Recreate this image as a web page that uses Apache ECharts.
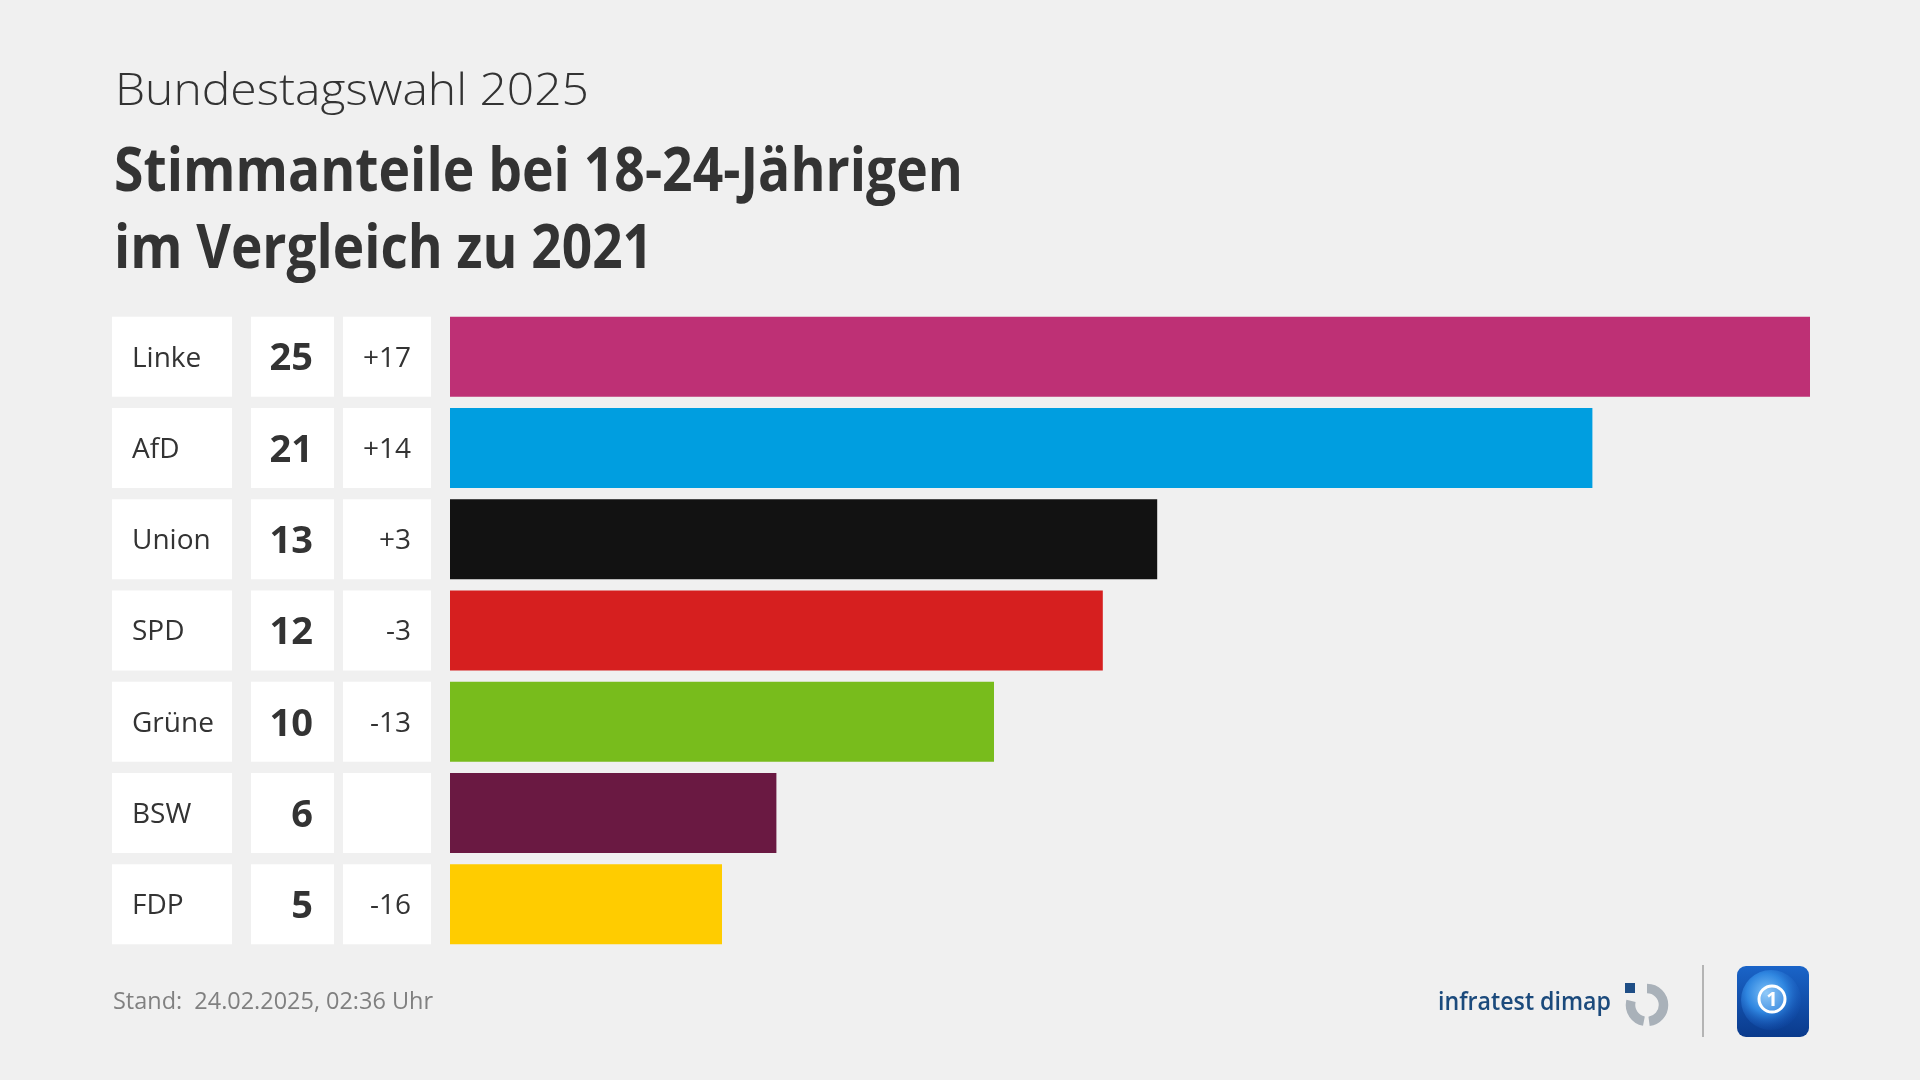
<!DOCTYPE html>
<html>
<head>
<meta charset="utf-8">
<script src="https://cdn.jsdelivr.net/npm/echarts@6/dist/echarts.min.js"></script>
<style>
html,body{margin:0;padding:0;background:#f0f0f0;}
#chart{width:1920px;height:1080px;}
</style>
</head>
<body>
<div id="chart"></div>
<script>
// ---- data ----
const parties = ['Linke', 'AfD', 'Union', 'SPD', 'Grüne', 'BSW', 'FDP'];
const shares = [25, 21, 13, 12, 10, 6, 5];
const changes = ['+17', '+14', '+3', '-3', '-13', '', '-16'];
const partyColors = ['#be3075', '#009ee0', '#121212', '#d61f1f', '#78bc1c', '#6a1942', '#ffcc00'];
const subtitleText = 'Bundestagswahl 2025';
const titleLines = ['Stimmanteile bei 18-24-Jährigen', 'im Vergleich zu 2021'];
const footnoteText = 'Stand:  24.02.2025, 02:36 Uhr';
const sourceText = 'infratest dimap';
const axisMax = 25;

// ---- helpers ----
const FONT = "'Open Sans', 'Noto Sans', sans-serif";
const mctx = document.createElement('canvas').getContext('2d');
function fitScale(text, size, weight, target) {
  mctx.font = weight + ' ' + size + 'px ' + FONT;
  const w = mctx.measureText(text).width;
  return w > 0 ? target / w : 1;
}
function label(text, x, cy, size, weight, color, targetWidth) {
  return {
    type: 'text', x: x, y: cy, silent: true,
    scaleX: targetWidth ? fitScale(text, size, weight, targetWidth) : 1,
    style: {
      text: text, x: 0, y: 0, fill: color,
      fontSize: size, fontWeight: weight, fontFamily: FONT,
      align: 'left', verticalAlign: 'middle'
    }
  };
}

const chart = echarts.init(document.getElementById('chart'), null, {renderer: 'canvas'});

const BOX_H = 80;
function renderRow(params, api) {
  const i = params.dataIndex;
  const cy = api.coord([0, i])[1];
  const top = cy - BOX_H / 2;
  return {
    type: 'group',
    children: [
      {type: 'rect', shape: {x: 112, y: top, width: 120, height: BOX_H}, style: {fill: '#ffffff'}},
      {type: 'rect', shape: {x: 251, y: top, width: 83, height: BOX_H}, style: {fill: '#ffffff'}},
      {type: 'rect', shape: {x: 343, y: top, width: 88, height: BOX_H}, style: {fill: '#ffffff'}},
      {type: 'text', style: {text: parties[i], x: 132, y: cy + 2, fill: '#333333', fontSize: 28, fontFamily: FONT, fontWeight: 'normal', align: 'left', verticalAlign: 'middle'}},
      {type: 'text', style: {text: String(shares[i]), x: 313, y: cy + 3, fill: '#333333', fontSize: 38, fontFamily: FONT, fontWeight: 'bold', align: 'right', verticalAlign: 'middle'}},
      {type: 'text', style: {text: changes[i], x: 411, y: cy + 2, fill: '#333333', fontSize: 28, fontFamily: FONT, fontWeight: 'normal', align: 'right', verticalAlign: 'middle'}}
    ]
  };
}

const option = {
  backgroundColor: '#f0f0f0',
  animation: false,
  grid: {left: 450, right: 110, top: 311, bottom: 130, containLabel: false},
  xAxis: {type: 'value', min: 0, max: axisMax, show: false},
  yAxis: {type: 'category', data: parties, inverse: true, show: false},
  series: [
    {
      type: 'bar',
      barWidth: 80,
      silent: true,
      data: shares.map((v, i) => ({value: v, itemStyle: {color: partyColors[i]}}))
    },
    {
      type: 'custom',
      silent: true,
      renderItem: renderRow,
      encode: {x: 0, y: 1},
      data: parties.map((p, i) => [0, i])
    }
  ],
  graphic: [
    label(subtitleText, 115, 92, 45, 300, '#333333', 474),
    label(titleLines[0], 114, 174, 60, 'bold', '#333333', 849),
    label(titleLines[1], 114, 251, 60, 'bold', '#333333', 539),
    label(footnoteText, 113, 1002, 24, 'normal', '#808080', 320),
    label(sourceText, 1438, 1003, 26, 600, '#1b4a7c', 173),
    // infratest dimap mark
    {type: 'rect', silent: true, shape: {x: 1625, y: 983, width: 10, height: 10}, style: {fill: '#1f4e86'}},
    {type: 'arc', silent: true, shape: {cx: 1647, cy: 1005, r: 16.5, startAngle: -Math.PI / 2, endAngle: Math.PI * 0.46}, style: {stroke: '#a9b1b9', lineWidth: 9.5, fill: null}},
    {type: 'arc', silent: true, shape: {cx: 1647, cy: 1005, r: 16.5, startAngle: Math.PI * 0.56, endAngle: Math.PI * 1.08}, style: {stroke: '#a9b1b9', lineWidth: 9.5, fill: null}},
    // separator
    {type: 'line', silent: true, shape: {x1: 1703, y1: 965, x2: 1703, y2: 1037}, style: {stroke: '#b4b4b4', lineWidth: 2}},
    // tagesschau icon
    {type: 'rect', silent: true, shape: {x: 1737, y: 966, width: 72, height: 71, r: 9},
      style: {fill: new echarts.graphic.LinearGradient(0, 0, 0, 1, [{offset: 0, color: '#1a64c8'}, {offset: 1, color: '#0a3a8c'}])}},
    {type: 'circle', silent: true, shape: {cx: 1771, cy: 1000, r: 30},
      style: {fill: new echarts.graphic.RadialGradient(0.42, 0.38, 0.65, [{offset: 0, color: '#7cc0f8'}, {offset: 0.5, color: '#2f86e0'}, {offset: 1, color: 'rgba(20,80,180,0.1)'}])}},
    {type: 'circle', silent: true, shape: {cx: 1772, cy: 999, r: 13}, style: {fill: 'rgba(255,255,255,0.15)', stroke: '#ffffff', lineWidth: 3}},
    {type: 'text', silent: true, x: 1772, y: 1000, style: {text: '1', x: 0, y: 0, fill: '#ffffff', fontSize: 20, fontWeight: 'bold', fontFamily: FONT, align: 'center', verticalAlign: 'middle'}}
  ]
};

chart.setOption(option);
</script>
</body>
</html>
